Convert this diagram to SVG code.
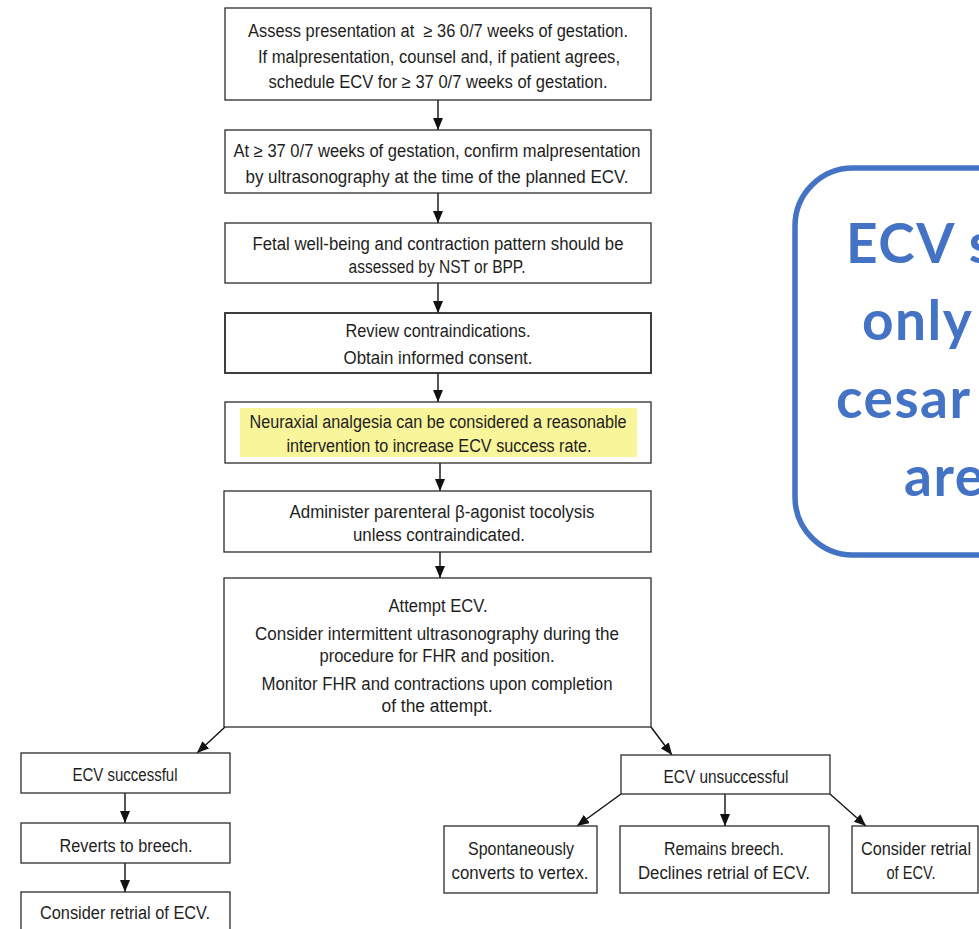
<svg xmlns="http://www.w3.org/2000/svg" width="979" height="929" viewBox="0 0 979 929">
<defs>
<style>
.box{fill:#fff;stroke:#2b2b2b;stroke-width:1.3}
.t{font-family:"Liberation Sans",Arial,sans-serif;font-size:18px;fill:#1e1e1e;text-anchor:middle}
.c{stroke:#111;stroke-width:1.4;fill:none;marker-end:url(#ah)}
.call{font-family:Lato,"Noto Sans",sans-serif;font-weight:bold;font-size:55px;letter-spacing:1.5px;fill:#4472C4}
</style>
<marker id="ah" viewBox="0 0 12 10" refX="12" refY="5" markerWidth="12" markerHeight="10" markerUnits="userSpaceOnUse" orient="auto">
<path d="M0,0 L12,5 L0,10 z" fill="#111"/>
</marker>
</defs>
<rect width="979" height="929" fill="#fff"/>

<g id="connectors">
<line class="c" x1="438" y1="100" x2="438" y2="130"/>
<line class="c" x1="438" y1="193" x2="438" y2="223"/>
<line class="c" x1="438" y1="283" x2="438" y2="313"/>
<line class="c" x1="438" y1="373" x2="438" y2="402"/>
<line class="c" x1="440" y1="463" x2="440" y2="491"/>
<line class="c" x1="440" y1="552" x2="440" y2="578"/>
<line class="c" x1="225" y1="727" x2="197" y2="753"/>
<line class="c" x1="651" y1="727" x2="672" y2="755"/>
<line class="c" x1="125" y1="793" x2="125" y2="823"/>
<line class="c" x1="125" y1="863" x2="125" y2="892"/>
<line class="c" x1="621" y1="794" x2="577" y2="826"/>
<line class="c" x1="725" y1="794" x2="725" y2="826"/>
<line class="c" x1="830" y1="794" x2="866" y2="826"/>
</g>

<g id="n1">
<rect class="box" x="225" y="8" width="426" height="92"/>
<text class="t" x="438" y="37" textLength="380" lengthAdjust="spacingAndGlyphs" xml:space="preserve">Assess presentation at  ≥ 36 0/7 weeks of gestation.</text>
<text class="t" x="439" y="63" textLength="362" lengthAdjust="spacingAndGlyphs">If malpresentation, counsel and, if patient agrees,</text>
<text class="t" x="438" y="88" textLength="339" lengthAdjust="spacingAndGlyphs">schedule ECV for ≥ 37 0/7 weeks of gestation.</text>
</g>

<g id="n2">
<rect class="box" x="225" y="130" width="426" height="63"/>
<text class="t" x="437" y="157" textLength="407" lengthAdjust="spacingAndGlyphs">At ≥ 37 0/7 weeks of gestation, confirm malpresentation</text>
<text class="t" x="437" y="183" textLength="383" lengthAdjust="spacingAndGlyphs">by ultrasonography at the time of the planned ECV.</text>
</g>

<g id="n3">
<rect class="box" x="225" y="223" width="426" height="60"/>
<text class="t" x="438" y="250" textLength="371" lengthAdjust="spacingAndGlyphs">Fetal well-being and contraction pattern should be</text>
<text class="t" x="437" y="273" textLength="177" lengthAdjust="spacingAndGlyphs">assessed by NST or BPP.</text>
</g>

<g id="n4">
<rect class="box" x="225" y="313" width="426" height="60" style="stroke-width:1.8"/>
<text class="t" x="438" y="337" textLength="185" lengthAdjust="spacingAndGlyphs">Review contraindications.</text>
<text class="t" x="438" y="364" textLength="189" lengthAdjust="spacingAndGlyphs">Obtain informed consent.</text>
</g>

<g id="n5">
<rect class="box" x="225" y="402" width="426" height="61"/>
<rect x="240" y="408" width="397" height="49" fill="#F9F59A"/>
<text class="t" x="438" y="428" textLength="377" lengthAdjust="spacingAndGlyphs">Neuraxial analgesia can be considered a reasonable</text>
<text class="t" x="439" y="452" textLength="305" lengthAdjust="spacingAndGlyphs">intervention to increase ECV success rate.</text>
</g>

<g id="n6">
<rect class="box" x="224" y="491" width="427" height="61"/>
<text class="t" x="442" y="518" textLength="305" lengthAdjust="spacingAndGlyphs">Administer parenteral β-agonist tocolysis</text>
<text class="t" x="439" y="541" textLength="172" lengthAdjust="spacingAndGlyphs">unless contraindicated.</text>
</g>

<g id="n7">
<rect class="box" x="224" y="578" width="427" height="149"/>
<text class="t" x="438" y="612" textLength="99" lengthAdjust="spacingAndGlyphs">Attempt ECV.</text>
<text class="t" x="437" y="640" textLength="364" lengthAdjust="spacingAndGlyphs">Consider intermittent ultrasonography during the</text>
<text class="t" x="437" y="662" textLength="235" lengthAdjust="spacingAndGlyphs">procedure for FHR and position.</text>
<text class="t" x="437" y="690" textLength="351" lengthAdjust="spacingAndGlyphs">Monitor FHR and contractions upon completion</text>
<text class="t" x="437" y="712" textLength="111" lengthAdjust="spacingAndGlyphs">of the attempt.</text>
</g>

<g id="n8">
<rect class="box" x="21" y="753" width="209" height="40"/>
<text class="t" x="125" y="781" textLength="105" lengthAdjust="spacingAndGlyphs">ECV successful</text>
</g>

<g id="n9">
<rect class="box" x="21" y="823" width="209" height="40"/>
<text class="t" x="126" y="852" textLength="133" lengthAdjust="spacingAndGlyphs">Reverts to breech.</text>
</g>

<g id="n10">
<rect class="box" x="21" y="892" width="209" height="45"/>
<text class="t" x="125" y="919" textLength="170" lengthAdjust="spacingAndGlyphs">Consider retrial of ECV.</text>
</g>

<g id="n11">
<rect class="box" x="621" y="755" width="209" height="39"/>
<text class="t" x="726" y="783" textLength="125" lengthAdjust="spacingAndGlyphs">ECV unsuccessful</text>
</g>

<g id="n12">
<rect class="box" x="444" y="826" width="153" height="67"/>
<text class="t" x="521" y="855" textLength="106" lengthAdjust="spacingAndGlyphs">Spontaneously</text>
<text class="t" x="520" y="879" textLength="137" lengthAdjust="spacingAndGlyphs">converts to vertex.</text>
</g>

<g id="n13">
<rect class="box" x="620" y="826" width="209" height="67"/>
<text class="t" x="724" y="855" textLength="120" lengthAdjust="spacingAndGlyphs">Remains breech.</text>
<text class="t" x="724" y="879" textLength="172" lengthAdjust="spacingAndGlyphs">Declines retrial of ECV.</text>
</g>

<g id="n14">
<rect class="box" x="852" y="826" width="126" height="67"/>
<text class="t" x="916" y="855" textLength="110" lengthAdjust="spacingAndGlyphs">Consider retrial</text>
<text class="t" x="911" y="879" textLength="49" lengthAdjust="spacingAndGlyphs">of ECV.</text>
</g>

<g id="callout">
<rect x="795" y="168" width="320" height="387" rx="58" ry="58" fill="#fff" stroke="#4472C4" stroke-width="5.5"/>
<text class="call" x="846" y="263">ECV s</text>
<text class="call" x="862" y="340">only</text>
<text class="call" x="836" y="418">cesar</text>
<text class="call" x="904" y="496">are</text>
</g>
</svg>
